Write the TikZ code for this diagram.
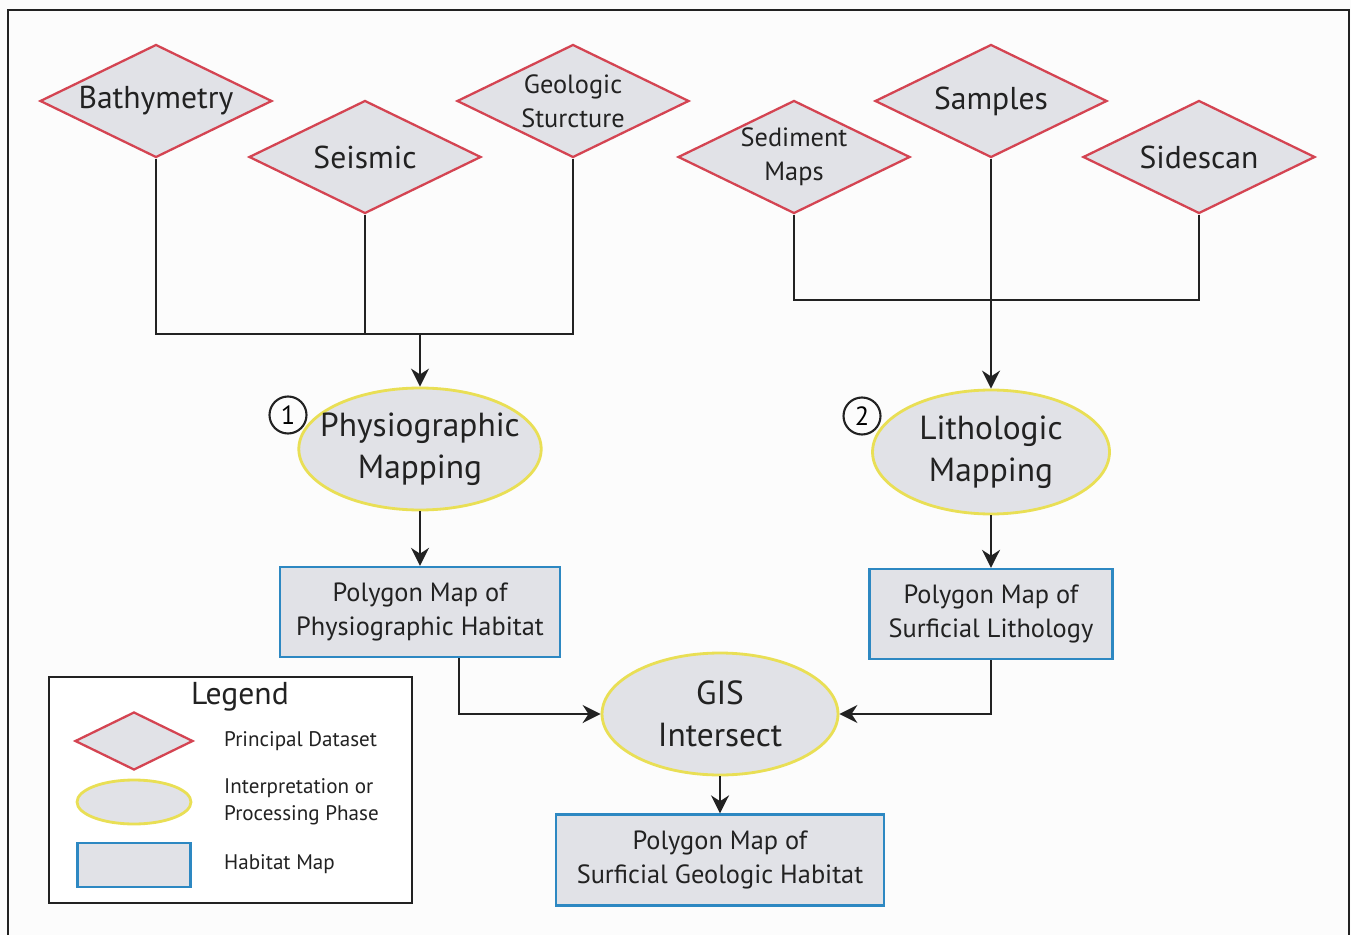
\documentclass[tikz,border=0pt]{standalone}
\usepackage{fontspec}
\setmainfont{PT Sans}
\usetikzlibrary{arrows.meta, positioning, shapes.geometric}
\definecolor{dataRed}{HTML}{D44452}
\definecolor{phaseYellow}{HTML}{E9DF55}
\definecolor{mapBlue}{HTML}{2D88C2}
\definecolor{shapeGray}{HTML}{E1E2E7}
\definecolor{lineDark}{HTML}{222222}
\definecolor{pageWhite}{HTML}{FCFCFC}
\tikzset{
  databox/.style={diamond, aspect=2, draw=dataRed, fill=shapeGray, line width=1.3pt, inner sep=-4pt,
    minimum width=4.64cm, minimum height=2.26cm, align=center, text=lineDark},
  phasebox/.style={ellipse, draw=phaseYellow, fill=shapeGray, line width=1.6pt, inner sep=-8pt,
    minimum width=4.72cm, minimum height=2.44cm, align=center, text=lineDark,
    font=\fontsize{19}{24}\selectfont},
  mapbox/.style={rectangle, draw=mapBlue, fill=shapeGray, line width=1.3pt, inner sep=0pt,
    align=center, text=lineDark, font=\fontsize{15}{19.5}\selectfont},
  numbadge/.style={circle, draw=lineDark, line width=1.2pt, inner sep=0pt, minimum size=0.74cm,
    fill=pageWhite, font=\fontsize{15}{15}\selectfont},
  bigtext/.style={font=\fontsize{18}{20}\selectfont},
  smalltext/.style={font=\fontsize{15}{19.5}\selectfont},
  link/.style={lineDark, line width=1.35pt},
  flowarr/.style={-{Stealth[length=3.6mm, width=3.6mm]}, lineDark, line width=1.35pt},
  legtext/.style={anchor=west, align=left, text=lineDark, font=\fontsize{12}{15.5}\selectfont},
}
\begin{document}
\begin{tikzpicture}[x=0.02cm, y=-0.02cm]
  \fill[pageWhite] (0,0) rectangle (1351,935);
  \useasboundingbox (0,0) rectangle (1351,935);
  \draw[lineDark, line width=1.4pt] (8,935) -- (8,10) -- (1349,10) -- (1349,935);

  % principal datasets
  \node[databox, bigtext] (bathy) at (156,101) {Bathymetry};
  \node[databox, bigtext] (seis) at (365,157) {Seismic};
  \node[databox, smalltext] (geo) at (573,101) {Geologic\\Sturcture};
  \node[databox, smalltext] (sed) at (794,157) {Sediment\\Maps};
  \node[databox, bigtext] (samp) at (991,101) {Samples};
  \node[databox, bigtext] (side) at (1199,157) {Sidescan};

  % interpretation phases
  \node[phasebox] (phys) at (420,449) {Physiographic\\Mapping};
  \node[phasebox, minimum width=4.74cm, minimum height=2.48cm] (lith) at (991,452) {Lithologic\\Mapping};
  \node[phasebox] (gis) at (720,714) {GIS\\Intersect};
  \node[numbadge] (one) at (288,415) {1};
  \node[numbadge] (two) at (862,416) {2};

  % habitat maps
  \node[mapbox, minimum width=5.6cm, minimum height=1.8cm] (physmap) at (420,612)
    {Polygon Map of\\Physiographic Habitat};
  \node[mapbox, minimum width=4.86cm, minimum height=1.8cm] (lithmap) at (991,614)
    {Polygon Map of\\Surficial Lithology};
  \node[mapbox, minimum width=6.56cm, minimum height=1.82cm] (habmap) at (720,860)
    {Polygon Map of\\Surficial Geologic Habitat};

  % connectors
  \coordinate (joinL) at (420,334);
  \coordinate (joinR) at (991,300);
  \draw[link] (bathy.south) |- (joinL);
  \draw[link] (geo.south) |- (joinL);
  \draw[link] (seis.south) -- (seis.south |- joinL);
  \draw[flowarr] (joinL) -- (phys.north);
  \draw[link] (sed.south) |- (joinR);
  \draw[link] (side.south) |- (joinR);
  \draw[flowarr] (samp.south) -- (lith.north);
  \draw[flowarr] (phys.south) -- (physmap.north);
  \draw[flowarr] (lith.south) -- (lithmap.north);
  \draw[flowarr] ([xshift=0.78cm]physmap.south) |- (gis.west);
  \draw[flowarr] (lithmap.south) |- (gis.east);
  \draw[flowarr] (gis.south) -- (habmap.north);

  % legend
  \draw[lineDark, line width=1.4pt, fill=white] (49,677) rectangle (412,903);
  \node[text=lineDark, font=\fontsize{18}{20}\selectfont] (legtitle) at (240,697) {Legend};
  \node[databox, minimum width=2.36cm, minimum height=1.16cm] (legdata) at (134,741) {};
  \node[phasebox, minimum width=2.28cm, minimum height=0.88cm] (legphase) at (134,802) {};
  \node[mapbox, minimum width=2.26cm, minimum height=0.88cm] (legmap) at (134,865) {};
  \node[legtext] at (218,741) {Principal Dataset};
  \node[legtext] at (218,802) {Interpretation or\\Processing Phase};
  \node[legtext] at (218,864) {Habitat Map};
\end{tikzpicture}
\end{document}
